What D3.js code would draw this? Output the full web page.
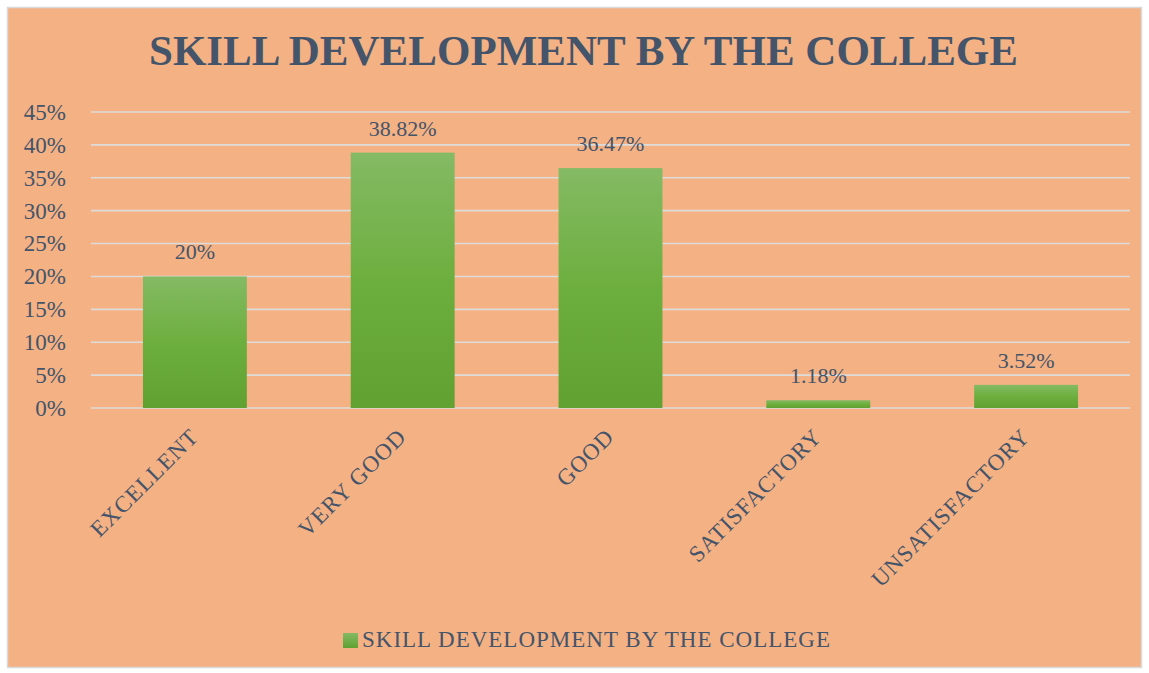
<!DOCTYPE html>
<html><head><meta charset="utf-8">
<script src="https://cdn.jsdelivr.net/npm/d3@7"></script>
<style>body{margin:0;background:#fff;}svg{display:block;}</style>
</head><body>
<script>
const categories = ["EXCELLENT","VERY GOOD","GOOD","SATISFACTORY","UNSATISFACTORY"];
const values = [20, 38.82, 36.47, 1.18, 3.52];
const valueLabels = ["20%","38.82%","36.47%","1.18%","3.52%"];
const yTicks = [0,5,10,15,20,25,30,35,40,45];
const title = "SKILL DEVELOPMENT BY THE COLLEGE";
const seriesName = "SKILL DEVELOPMENT BY THE COLLEGE";

const W=1149,H=673;
const font="'Liberation Serif','Times New Roman',serif";
const txt="#44546A";
const svg=d3.select("body").append("svg").attr("width",W).attr("height",H);
const defs=svg.append("defs");
const g=defs.append("linearGradient").attr("id","bg").attr("x1",0).attr("y1",0).attr("x2",0).attr("y2",1);
g.append("stop").attr("offset","0%").attr("stop-color","#84BA64");
g.append("stop").attr("offset","50%").attr("stop-color","#6DAF3E");
g.append("stop").attr("offset","100%").attr("stop-color","#60A131");
const lg=defs.append("linearGradient").attr("id","lg").attr("x1",0).attr("y1",0).attr("x2",0).attr("y2",1);
lg.append("stop").attr("offset","0%").attr("stop-color","#84BA64");
lg.append("stop").attr("offset","100%").attr("stop-color","#60A131");

svg.append("rect").attr("x",7.5).attr("y",7.5).attr("width",1134).attr("height",660)
  .attr("fill","#F4B183").attr("stroke","#D9D9D9").attr("stroke-width",1.5);

svg.append("text").attr("x",583.5).attr("y",65).attr("text-anchor","middle")
  .attr("font-family",font).attr("font-weight","bold").attr("font-size",43)
  .attr("fill",txt).text(title);

const x=d3.scaleBand().domain(categories).range([91,1130]).paddingInner(0.5).paddingOuter(0.25);
const y=d3.scaleLinear().domain([0,45]).range([408,112]);

const grid=svg.append("g");
grid.selectAll("line").data(yTicks).join("line")
  .attr("x1",91).attr("x2",1130).attr("y1",d=>y(d)).attr("y2",d=>y(d))
  .attr("stroke","#DEDCDA").attr("stroke-width",1.6);

const yAxis=svg.append("g").attr("transform","translate(91,0)")
  .call(d3.axisLeft(y).tickValues(yTicks).tickFormat(d=>d+"%").tickSize(0).tickPadding(25));
yAxis.select(".domain").remove();
yAxis.selectAll("text").attr("font-family",font).attr("font-size",23).attr("fill",txt);

svg.append("g").selectAll("rect").data(values).join("rect")
  .attr("x",(d,i)=>x(categories[i])).attr("width",x.bandwidth())
  .attr("y",d=>y(d)).attr("height",d=>y(0)-y(d)).attr("fill","url(#bg)");

svg.append("g").selectAll("text").data(values).join("text")
  .attr("x",(d,i)=>x(categories[i])+x.bandwidth()/2).attr("y",d=>y(d)-17)
  .attr("text-anchor","middle").attr("font-family",font).attr("font-size",22).attr("fill",txt)
  .text((d,i)=>valueLabels[i]);

const xAxis=svg.append("g").attr("transform","translate(0,408)")
  .call(d3.axisBottom(x).tickSize(0).tickPadding(0));
xAxis.select(".domain").remove();
xAxis.selectAll("text").attr("font-family",font).attr("font-size",23).attr("fill",txt)
  .attr("letter-spacing",1).attr("text-anchor","end").attr("dy",0)
  .attr("transform","translate(5,30) rotate(-45)");

const leg=svg.append("g");
leg.append("rect").attr("x",343).attr("y",633).attr("width",15).attr("height",15).attr("fill","url(#lg)");
leg.append("text").attr("x",362).attr("y",647).attr("font-family",font).attr("font-size",23)
  .attr("letter-spacing",1).attr("fill",txt).text(seriesName);
</script>
</body></html>
